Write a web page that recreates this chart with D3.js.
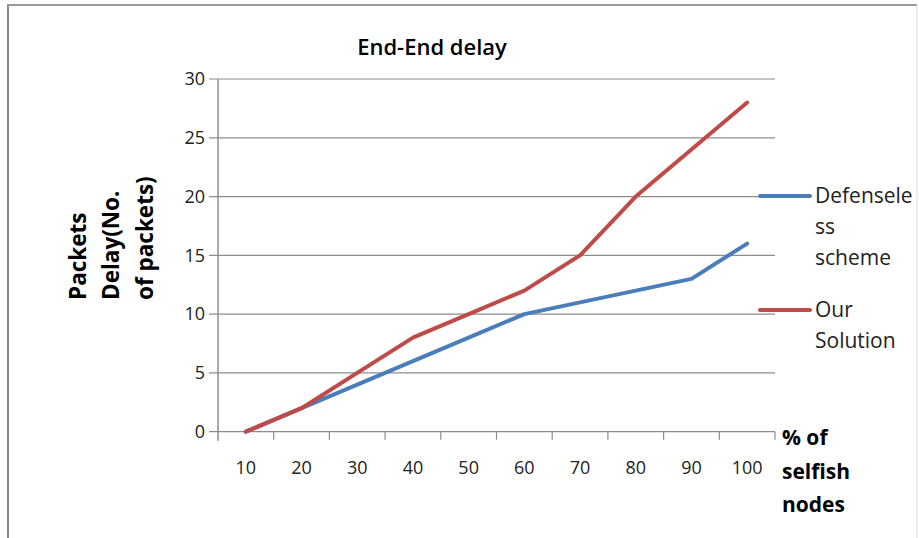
<!DOCTYPE html>
<html><head><meta charset="utf-8">
<script src="https://cdn.jsdelivr.net/npm/d3@7/dist/d3.min.js"></script>
<style>body{margin:0;background:#fff}svg{display:block}</style>
</head><body><svg id="c" width="919" height="538"></svg>
<script>
const categories = ["10","20","30","40","50","60","70","80","90","100"];
const defenseless = [0,2,4,6,8,10,11,12,13,16];
const ourSolution = [0,2,5,8,10,12,15,20,24,28];
const yTicks = [0,5,10,15,20,25,30];
const seriesNames = [["Defensele","ss","scheme"],["Our","Solution"]];
const colors = ["#4a7ebb","#be4b48"];

const svg = d3.select("#c");
const font = "'Open Sans', 'Noto Sans', sans-serif";
// frame
svg.append("line").attr("x1",8).attr("y1",5).attr("x2",8).attr("y2",538).attr("stroke","#888").attr("stroke-width",2);
svg.append("line").attr("x1",7).attr("y1",5).attr("x2",917).attr("y2",5).attr("stroke","#999").attr("stroke-width",2);
svg.append("line").attr("x1",917).attr("y1",5).attr("x2",917).attr("y2",538).attr("stroke","#ddd").attr("stroke-width",1);

const pL=218, pR=775, pT=79, pB=431.7;
const x = d3.scaleBand().domain(categories).range([pL,pR]);
const y = d3.scaleLinear().domain([0,30]).range([pB,pT]);

// gridlines
svg.append("g").selectAll("line").data(yTicks).join("line")
  .attr("x1",pL-9).attr("x2",pR).attr("y1",d=>y(d)).attr("y2",d=>y(d))
  .attr("stroke","#8c8c8c").attr("stroke-width",1.2);
// y axis line
svg.append("line").attr("x1",pL).attr("x2",pL).attr("y1",pT).attr("y2",pB+9).attr("stroke","#8c8c8c").attr("stroke-width",1.5);
// x ticks at band boundaries
const bounds = categories.map(c=>x(c)).concat([pR]);
svg.append("g").selectAll("line").data(bounds.slice(1)).join("line")
  .attr("x1",d=>d).attr("x2",d=>d).attr("y1",pB).attr("y2",pB+8)
  .attr("stroke","#8c8c8c").attr("stroke-width",1.2);
// y labels
svg.append("g").selectAll("text").data(yTicks).join("text")
  .attr("x",205).attr("y",d=>y(d)).attr("dy","0.35em").attr("text-anchor","end")
  .attr("font-family",font).attr("font-size",18).attr("fill","#222").text(d=>d);
// x labels
svg.append("g").selectAll("text").data(categories).join("text")
  .attr("x",d=>x(d)+x.bandwidth()/2).attr("y",468).attr("dy","0.35em").attr("text-anchor","middle")
  .attr("font-family",font).attr("font-size",18).attr("fill","#222").text(d=>d);

// lines
const line = d3.line().x((d,i)=>x(categories[i])+x.bandwidth()/2).y(d=>y(d));
[defenseless, ourSolution].forEach((s,i)=>{
  svg.append("path").attr("d",line(s)).attr("fill","none").attr("stroke",colors[i])
    .attr("stroke-width",4).attr("stroke-linejoin","round").attr("stroke-linecap","round");
});

// title
svg.append("text").attr("x",432).attr("y",47).attr("dy","0.35em").attr("text-anchor","middle")
  .attr("font-family",font).attr("font-weight","600").attr("font-size",22).attr("fill","#000").text("End-End delay");

// y title
const yt = svg.append("text").attr("transform","translate(0,300) rotate(-90)")
  .attr("text-anchor","start").attr("font-family",font).attr("font-weight","bold").attr("font-size",22.5).attr("fill","#000");
["Packets","Delay(No.","of packets)"].forEach((t,i)=>{
  yt.append("tspan").attr("x",0).attr("y",[78,111,145][i]).attr("dy","0.35em").text(t);
});
// x title
const xt = svg.append("text").attr("font-family",font).attr("font-weight","bold").attr("font-size",21).attr("fill","#000");
["% of","selfish","nodes"].forEach((t,i)=>{
  xt.append("tspan").attr("x",782).attr("y",[438,472,505][i]).attr("dy","0.35em").text(t);
});

// legend
const legY = [196,310];
seriesNames.forEach((lines,i)=>{
  svg.append("line").attr("x1",760).attr("x2",810).attr("y1",legY[i]).attr("y2",legY[i])
    .attr("stroke",colors[i]).attr("stroke-width",4).attr("stroke-linecap","round");
  const t = svg.append("text").attr("font-family",font).attr("font-size",21).attr("fill","#222");
  lines.forEach((l,j)=>{
    t.append("tspan").attr("x",815).attr("y",legY[i]+j*31).attr("dy","0.35em").text(l);
  });
});
</script></body></html>
